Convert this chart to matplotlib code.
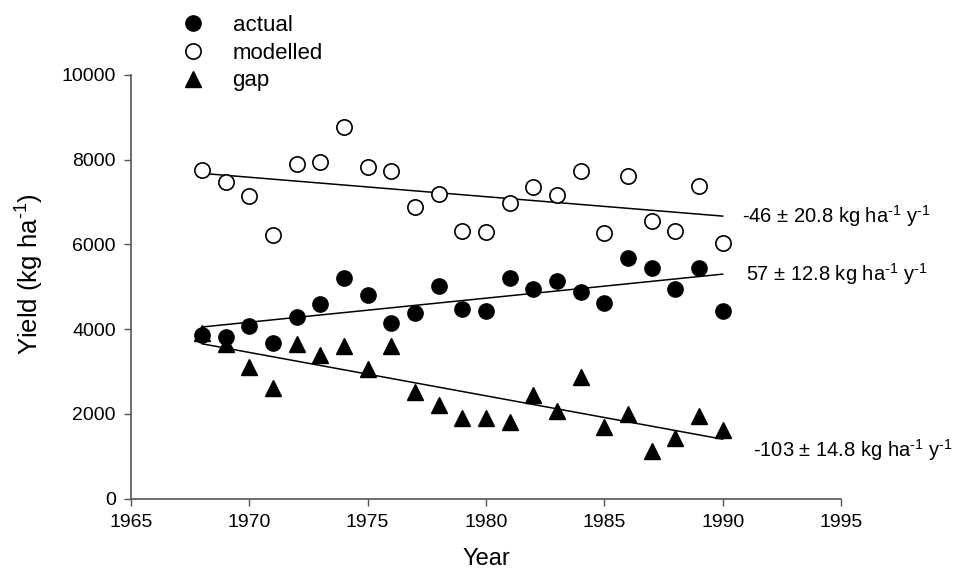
import numpy as np
import matplotlib
matplotlib.use("Agg")
import matplotlib.pyplot as plt

plt.rcParams['font.family'] = ['Liberation Sans', 'DejaVu Sans']
plt.rcParams['mathtext.fontset'] = 'custom'
plt.rcParams['mathtext.rm'] = 'Liberation Sans'
plt.rcParams['mathtext.default'] = 'regular'

# ---------------- data ----------------
years = np.arange(1968, 1991)
actual = [3865, 3826, 4078, 3669, 4298, 4597, 5204, 4817, 4141, 4392, 5022, 4472,
          4425, 5204, 4959, 5133, 4881, 4614, 5677, 5440, 4944, 5450, 4439]
modelled = [7761, 7471, 7148, 6234, 7910, 7958, 8777, 7840, 7738, 6888, 7195, 6321,
            6290, 6990, 7367, 7171, 7738, 6266, 7627, 6550, 6321, 7391, 6045]
gap = [3905, 3653, 3118, 2606, 3653, 3393, 3606, 3055, 3613, 2527, 2212, 1898,
       1898, 1819, 2449, 2078, 2881, 1686, 1993, 1126, 1441, 1960, 1622]

SUP = r'$^{\text{-1}}$'
trend_labels = {
    'modelled': '-46 ± 20.8 kg ha' + SUP + ' y' + SUP,
    'actual': '57 ± 12.8 kg ha' + SUP + ' y' + SUP,
    'gap': '-103 ± 14.8 kg ha' + SUP + ' y' + SUP,
}

# ---------------- plot ----------------
fig = plt.figure(figsize=(9.55, 5.8), dpi=100)
ax = fig.add_axes([0.1372, 0.1402, 0.7434, 0.7305])

h_act, = ax.plot(years, actual, 'o', ms=11, mfc='black', mec='black', mew=1, ls='none', label='actual')
h_mod, = ax.plot(years, modelled, 'o', ms=11, mfc='white', mec='black', mew=1.2, ls='none', label='modelled')
h_gap, = ax.plot(years, gap, '^', ms=12, mfc='black', mec='black', mew=1, ls='none', label='gap')

# regression lines + slope text
label_pos = {'modelled': (1990.8, 0), 'actual': (1991.0, 0), 'gap': (1991.3, -250)}
for key, vals in [('modelled', modelled), ('actual', actual), ('gap', gap)]:
    b, a = np.polyfit(years, vals, 1)
    xx = np.array([years[0], years[-1]])
    ax.plot(xx, a + b * xx, color='black', lw=1.1, zorder=1)
    dx, dy = label_pos[key]
    ax.text(dx, a + b * years[-1] + dy, trend_labels[key], ha='left', va='center', fontsize=14.5)

ax.set_xlim(1965, 1995)
ax.set_ylim(0, 10000)
ax.set_xticks(np.arange(1965, 1996, 5))
ax.set_yticks(np.arange(0, 10001, 2000))
ax.tick_params(direction='out', length=5, width=1, labelsize=14, color='#555555', pad=6)
for s in ['top', 'right']:
    ax.spines[s].set_visible(False)
for s in ['left', 'bottom']:
    ax.spines[s].set_color('#555555')
    ax.spines[s].set_linewidth(1.2)

ax.set_xlabel('Year', fontsize=17, labelpad=12)
ax.set_ylabel('Yield (kg ha' + SUP + ')', fontsize=18.5)
ax.yaxis.set_label_coords(-0.12, 0.53)

fig.legend(handles=[h_act, h_mod, h_gap], loc='upper left', bbox_to_anchor=(0.176, 0.997),
           frameon=False, fontsize=16, handletextpad=1.3, labelspacing=0.3,
           handlelength=1.0, borderaxespad=0.2)

fig.savefig('out.png', dpi=100)
